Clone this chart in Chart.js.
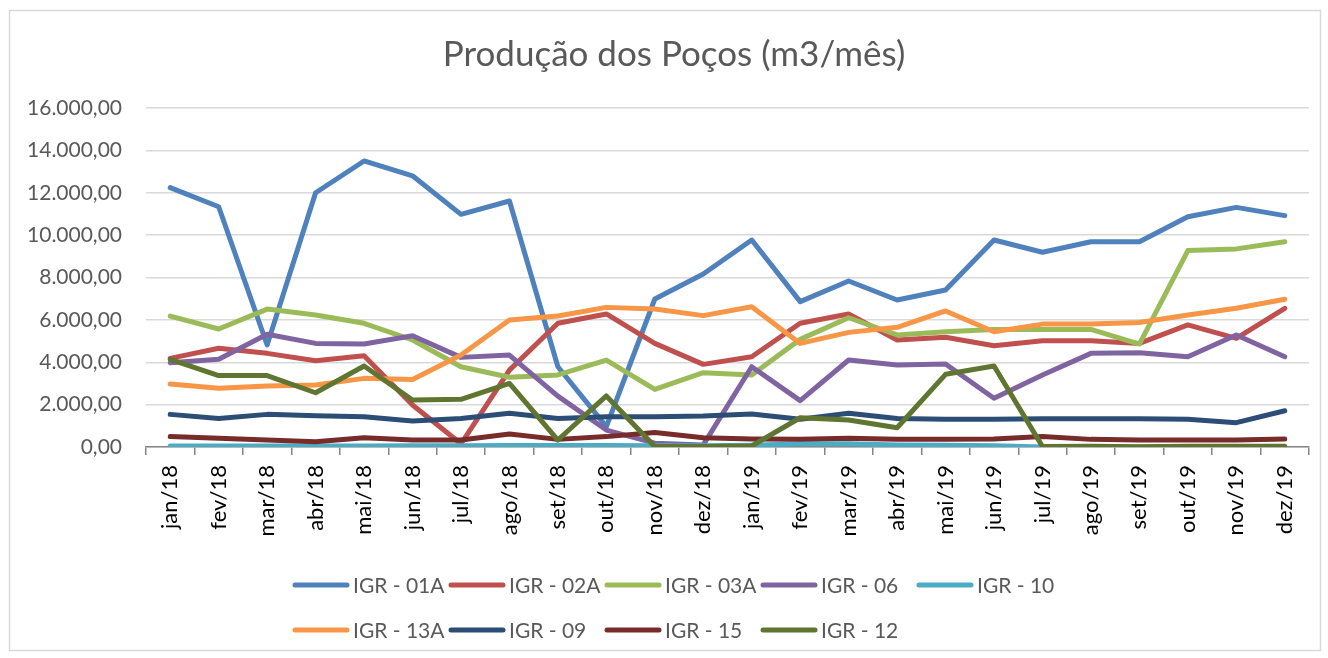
<!DOCTYPE html>
<html>
<head>
<meta charset="utf-8">
<script src="https://cdn.jsdelivr.net/npm/chart.js@4.4.1/dist/chart.umd.min.js"></script>
<style>
html,body{margin:0;padding:0;background:#fff;}
#wrap{position:relative;width:1328px;height:658px;}
</style>
</head>
<body>
<div id="wrap"><canvas id="c" width="1328" height="658"></canvas></div>
<script>
const months = ['jan/18','fev/18','mar/18','abr/18','mai/18','jun/18','jul/18','ago/18','set/18','out/18','nov/18','dez/18',
                'jan/19','fev/19','mar/19','abr/19','mai/19','jun/19','jul/19','ago/19','set/19','out/19','nov/19','dez/19'];
const seriesNames = ['IGR - 01A','IGR - 02A','IGR - 03A','IGR - 06','IGR - 10','IGR - 13A','IGR - 09','IGR - 15','IGR - 12'];
const seriesColors = ['#4F81BD','#C0504D','#9BBB59','#8064A2','#4BACC6','#F79646','#2C4D75','#772C2A','#5F7530'];
const igr01A = [12240,11340,4815,12000,13500,12800,10980,11610,3790,960,6985,8165,9770,6860,7835,6940,7410,9770,9190,9690,9690,10870,11310,10920];
const igr02A = [4185,4660,4420,4075,4310,1980,150,3630,5840,6280,4890,3900,4260,5840,6280,5050,5180,4780,5020,5020,4890,5760,5130,6545];
const igr03A = [6180,5570,6510,6230,5840,5050,3790,3290,3400,4105,2720,3510,3400,5080,6100,5290,5440,5550,5550,5550,4860,9270,9350,9690];
const igr06  = [3980,4140,5320,4890,4860,5250,4230,4340,2400,800,180,100,3790,2190,4105,3870,3920,2300,3400,4420,4450,4260,5290,4260];
const igr10  = [50,50,50,50,50,60,60,70,70,70,60,60,80,150,150,100,80,60,0,0,0,0,0,0];
const igr13A = [2970,2770,2880,2930,3240,3190,4340,5990,6180,6590,6510,6200,6620,4890,5410,5650,6420,5440,5800,5800,5880,6230,6545,6970];
const igr09  = [1540,1350,1540,1480,1430,1230,1350,1590,1350,1430,1430,1460,1560,1310,1590,1350,1310,1310,1330,1330,1330,1310,1150,1710];
const igr15  = [490,410,330,250,440,330,330,610,360,490,680,440,380,360,410,360,360,380,490,360,330,330,330,380];
const igr12  = [4140,3370,3370,2560,3820,2220,2250,3000,330,2410,20,20,50,1380,1275,910,3430,3820,20,30,10,40,30,30];
const yTicks = [0,2000,4000,6000,8000,10000,12000,14000,16000];
const chartTitle = 'Produção dos Poços (m3/mês)';
const allSeries = [igr01A,igr02A,igr03A,igr06,igr10,igr13A,igr09,igr15,igr12];

function fmtBR(v){
  const neg = v < 0; v = Math.abs(v);
  const parts = v.toFixed(2).split('.');
  const intPart = parts[0].replace(/\B(?=(\d{3})+(?!\d))/g, '.');
  return (neg?'-':'') + intPart + ',' + parts[1];
}

const datasets = allSeries.map((d,i)=>({
  label: seriesNames[i],
  data: d,
  borderColor: seriesColors[i],
  backgroundColor: seriesColors[i],
  borderWidth: 5,
  pointRadius: 0,
  pointHoverRadius: 0,
  tension: 0,
  fill: false,
  borderCapStyle: 'round',
  borderJoinStyle: 'round',
  order: allSeries.length - i
}));

const framePlugin = {
  id: 'frame',
  beforeDraw(chart){
    const ctx = chart.ctx;
    ctx.save();
    ctx.fillStyle = '#ffffff';
    ctx.fillRect(0,0,chart.width,chart.height);
    ctx.strokeStyle = '#d9d9d9';
    ctx.lineWidth = 1.5;
    ctx.strokeRect(9.5,10.5,1311,640);
    ctx.font = '35px Lato';
    ctx.fillStyle = '#595959';
    ctx.textAlign = 'center';
    ctx.textBaseline = 'middle';
    ctx.fillText(chartTitle, 674, 55);
    ctx.restore();
  }
};

const legendPlugin = {
  id: 'excelLegend',
  afterDraw(chart){
    const ctx = chart.ctx;
    const ds = chart.data.datasets;
    const startX = 293, colW = 156, rowY = [585, 630], perRow = 5, lineLen = 56;
    ctx.save();
    ctx.font = '21px Lato';
    ctx.textBaseline = 'middle';
    ctx.textAlign = 'left';
    ds.forEach((d,i)=>{
      const row = Math.floor(i/perRow), col = i % perRow;
      const x = startX + col*colW, y = rowY[row];
      ctx.strokeStyle = d.borderColor;
      ctx.lineWidth = 5;
      ctx.lineCap = 'round';
      ctx.beginPath();
      ctx.moveTo(x+2, y);
      ctx.lineTo(x+lineLen-2, y);
      ctx.stroke();
      ctx.fillStyle = '#595959';
      ctx.fillText(d.label, x+lineLen+4, y+1);
    });
    ctx.restore();
  }
};

new Chart(document.getElementById('c'), {
  type: 'line',
  data: { labels: months, datasets },
  options: {
    responsive: false,
    animation: false,
    events: [],
    layout: { padding: { top: 108, left: 12, right: 19, bottom: 91 } },
    plugins: {
      legend: { display: false },
      tooltip: { enabled: false },
      title: { display: false }
    },
    scales: {
      x: {
        type: 'category',
        offset: true,
        grid: { display: true, offset: true, drawOnChartArea: false, drawTicks: true, tickLength: 8, color: '#868686', lineWidth: 1.5 },
        border: { display: true, color: '#868686', width: 1.5 },
        ticks: {
          color: '#000000',
          font: { family: 'Lato', size: 22 },
          maxRotation: 90, minRotation: 90,
          padding: 10,
          autoSkip: false
        },
        afterFit(scale){ scale.height = 120; }
      },
      y: {
        min: 0, max: 16000,
        afterBuildTicks(scale){ scale.ticks = yTicks.map(v=>({value:v})); },
        grid: { color: '#d9d9d9', lineWidth: 1.5, drawTicks: false },
        border: { display: false },
        ticks: {
          color: '#595959',
          font: { family: 'Lato', size: 21 },
          padding: 24,
          callback: (v)=>fmtBR(v)
        },
        afterFit(scale){ scale.width = 134; }
      }
    }
  },
  plugins: [framePlugin, legendPlugin]
});
</script>
</body>
</html>
